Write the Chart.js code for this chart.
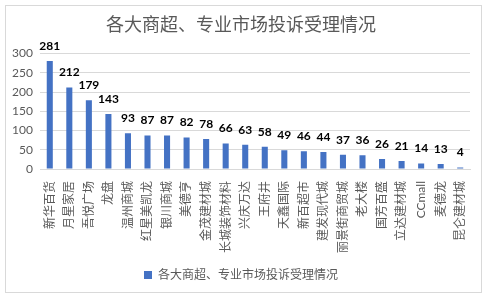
<!DOCTYPE html>
<html>
<head>
<meta charset="utf-8">
<script src="https://cdn.jsdelivr.net/npm/chart.js@4"></script>
<style>
  html, body { margin: 0; padding: 0; background: #fff; }
  #wrap { position: relative; width: 489px; height: 297px; }
</style>
</head>
<body>
<div id="wrap"><canvas id="complaintChart" width="489" height="297"></canvas></div>
<script>
// 数据
const chartTitle = '各大商超、专业市场投诉受理情况';
const categories = ['新华百货', '月星家居', '吾悦广场', '龙盘', '温州商城', '红星美凯龙', '银川商城', '美德亨',
  '金茂建材城', '长城装饰材料', '兴庆万达', '王府井', '天鑫国际', '新百超市', '建发现代城', '丽景街商贸城',
  '老大楼', '国芳百盛', '立达建材城', 'CCmall', '麦德龙', '昆仑建材城'];
const complaints = [281, 212, 179, 143, 93, 87, 87, 82, 78, 66, 63, 58, 49, 46, 44, 37, 36, 26, 21, 14, 13, 4];
const yTicks = [0, 50, 100, 150, 200, 250, 300];

const fontFamily = "Lato, 'Noto Sans CJK SC', sans-serif";
const grey = '#595959';

// 柱顶数值标签
const valueLabels = {
  id: 'valueLabels',
  afterDatasetsDraw(chart) {
    const ctx = chart.ctx;
    const meta = chart.getDatasetMeta(0);
    ctx.save();
    ctx.font = 'bold 12px ' + fontFamily;
    ctx.fillStyle = '#000';
    ctx.textAlign = 'center';
    ctx.textBaseline = 'middle';
    meta.data.forEach((bar, i) => {
      ctx.fillText(String(complaints[i]), bar.x, bar.y - 15);
    });
    ctx.restore();
  }
};

// 外框
const outerBorder = {
  id: 'outerBorder',
  afterDraw(chart) {
    const ctx = chart.ctx;
    ctx.save();
    ctx.strokeStyle = '#d9d9d9';
    ctx.lineWidth = 1;
    ctx.strokeRect(5.5, 5.5, 476, 287);
    ctx.restore();
  }
};

new Chart(document.getElementById('complaintChart'), {
  type: 'bar',
  data: {
    labels: categories,
    datasets: [{
      label: chartTitle,
      data: complaints,
      backgroundColor: '#4472C4',
      categoryPercentage: 1,
      barPercentage: 0.31
    }]
  },
  options: {
    responsive: false,
    animation: false,
    layout: { padding: { left: 12, right: 19, top: 8, bottom: 6 } },
    plugins: {
      title: {
        display: true,
        text: chartTitle,
        color: grey,
        font: { family: fontFamily, size: 18, weight: 'normal' },
        padding: { top: 6, bottom: 18 }
      },
      legend: {
        position: 'bottom',
        labels: {
          color: grey,
          boxWidth: 8,
          boxHeight: 8,
          font: { family: fontFamily, size: 12 },
          padding: 8
        }
      },
      tooltip: { enabled: false }
    },
    scales: {
      x: {
        grid: { display: false },
        border: { color: '#d9d9d9' },
        afterFit(scale) {
          scale.height = 92;
          scale.paddingLeft = 0;
          scale.paddingRight = 0;
        },
        ticks: {
          color: grey,
          autoSkip: false,
          minRotation: 90,
          maxRotation: 90,
          padding: 4,
          font: { family: fontFamily, size: 12 }
        }
      },
      y: {
        min: 0,
        max: 300,
        afterBuildTicks(scale) {
          scale.ticks = yTicks.map(v => ({ value: v }));
        },
        afterFit(scale) {
          scale.width = 28;
        },
        grid: { color: '#d9d9d9', drawTicks: false },
        border: { display: false },
        ticks: {
          color: grey,
          padding: 7,
          font: { family: fontFamily, size: 12 }
        }
      }
    }
  },
  plugins: [valueLabels, outerBorder]
});
</script>
</body>
</html>
